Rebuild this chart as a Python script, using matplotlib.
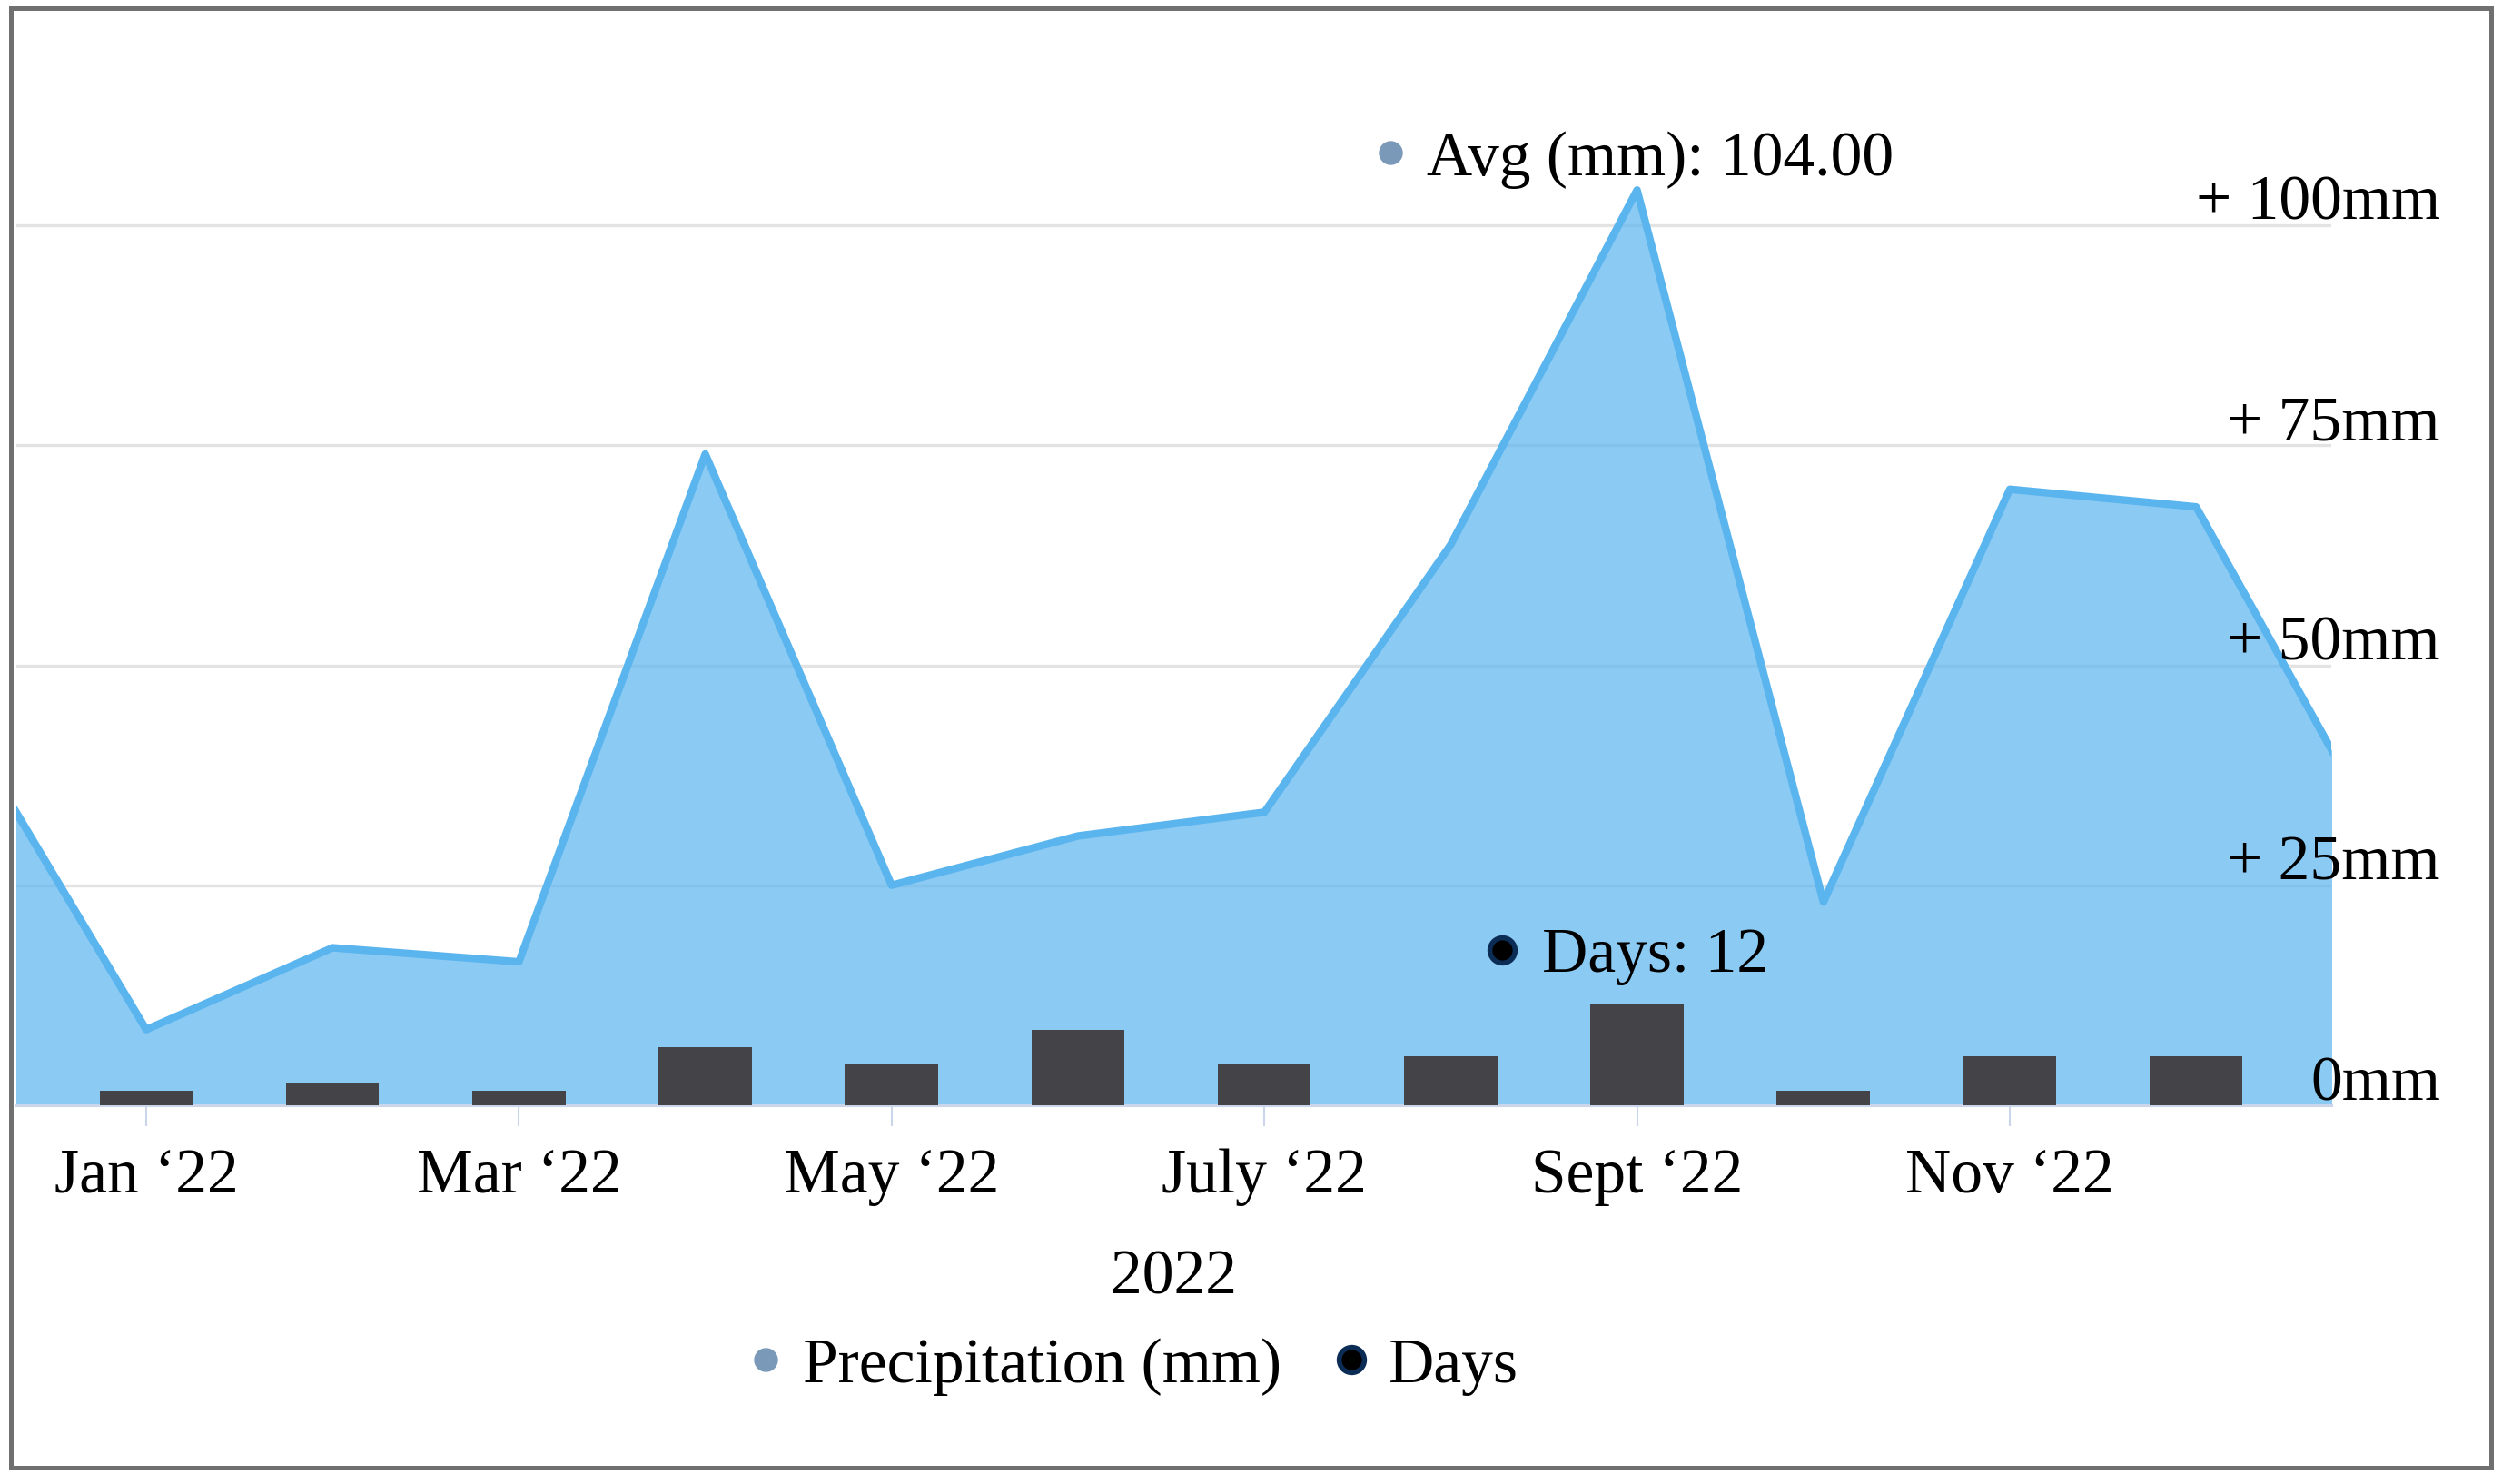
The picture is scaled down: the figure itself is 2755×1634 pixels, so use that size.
import matplotlib.pyplot as plt
import matplotlib.transforms as mtransforms
from matplotlib.lines import Line2D
from matplotlib.patches import Rectangle
import numpy as np

plt.rcParams['font.family'] = ['Liberation Serif', 'DejaVu Sans']

# months from Dec '21 to Jan '23 (ends are clipped by the axis)
months = ['Dec', 'Jan', 'Feb', 'Mar', 'Apr', 'May', 'Jun',
          'Jul', 'Aug', 'Sep', 'Oct', 'Nov', 'Dec', 'Jan']
precip = [44, 8.6, 17.9, 16.3, 74, 25, 30.6, 33.3, 63.7, 104, 23.1, 70, 68, 30]
days = [np.nan, 2, 3, 2, 7, 5, 9, 5, 6, 12, 2, 6, 6, np.nan]
tick_pos = [0, 2, 4, 6, 8, 10]
tick_labels = ['Jan \u201822', 'Mar \u201822', 'May \u201822',
               'July \u201822', 'Sept \u201822', 'Nov \u201822']
yticks = [0, 25, 50, 75, 100]

x = np.arange(len(months)) - 1

W, H = 2755, 1634
fig = plt.figure(figsize=(W / 100, H / 100), dpi=100)
FS = 50

left, right, bottom, top = 18, 2567, 1217, 150
ax = fig.add_axes([left / W, 1 - bottom / H, (right - left) / W, (bottom - top) / H])
ymax = (bottom - top) / 9.69
ax.set_xlim((left - 161) / 205.2, (right - 161) / 205.2)
ax.set_ylim(0, ymax)

line_col = '#5AB4EE'
ax.fill_between(x, precip, 0, color=line_col, alpha=0.7, lw=0, zorder=2)
ax.plot(x, precip, color=line_col, lw=6, zorder=3)

# grid
for v in yticks[1:]:
    ax.axhline(v, color='#e3e3e3', lw=2.4, zorder=1)

for s in ['top', 'left', 'right']:
    ax.spines[s].set_visible(False)
ax.spines['bottom'].set_color('#ccd6eb')
ax.spines['bottom'].set_linewidth(2.2)
ax.spines['bottom'].set_zorder(4)
ax.set_xticks(tick_pos)
ax.set_xticklabels(tick_labels, fontsize=FS)
ax.tick_params(axis='x', length=16.5, width=1.5, color='#ccd6eb', pad=18)
ax.set_yticks([])
ax.set_xlabel('2022', fontsize=FS, labelpad=34)

# y labels on the right, sitting above the grid lines
trans = mtransforms.blended_transform_factory(ax.transAxes, ax.transData)
trans = mtransforms.offset_copy(trans, fig=fig, x=120, y=6, units='dots')
for v in yticks:
    lab = '0mm' if v == 0 else f'+ {v}mm'
    ax.text(1.0, v, lab, transform=trans, ha='right', va='baseline',
            fontsize=FS, zorder=5, clip_on=False)

# days bars on a twin axis
ax2 = ax.twinx()
ax2.set_ylim(0.4, 0.4 + ymax)
ax2.bar(x, days, width=0.5, color='#434348', zorder=3)
ax2.set_yticks([])
for s in ax2.spines.values():
    s.set_visible(False)

# tooltip-like labels
i = int(np.nanargmax(precip))
avg_tr = mtransforms.offset_copy(ax.transData, fig=fig, x=-272, y=41, units='dots')
ax.plot([x[i]], [precip[i]], marker='o', ms=18, mfc='#7A99B8', mec='#7A99B8',
        transform=avg_tr, clip_on=False, zorder=6)
ax.annotate('Avg (mm): %.2f' % precip[i], xy=(x[i], precip[i]), xytext=(-232, 41),
            textcoords='offset pixels', ha='left', va='center_baseline',
            fontsize=FS, annotation_clip=False)
j = int(np.nanargmax(days))
dot_tr = mtransforms.offset_copy(ax2.transData, fig=fig, x=-149, y=59, units='dots')
ax2.plot([x[j]], [days[j]], marker='o', ms=20, mfc='black', mec='#0B2C55', mew=4,
         transform=dot_tr, clip_on=False, zorder=6)
ax2.annotate('Days: %d' % days[j], xy=(x[j], days[j]), xytext=(-105, 59),
             textcoords='offset pixels', ha='left', va='center_baseline',
             fontsize=FS, annotation_clip=False, zorder=6)

# legend
handles = [Line2D([], [], ls='none', marker='o', ms=18, mfc='#7A99B8', mec='#7A99B8'),
           Line2D([], [], ls='none', marker='o', ms=20, mfc='black', mec='#0B2C55', mew=4)]
fig.legend(handles, ['Precipitation (mm)', 'Days'], loc='center',
           bbox_to_anchor=(1240 / W, 1 - 1505 / H), ncol=2, frameon=False,
           fontsize=FS, handletextpad=0.1, columnspacing=0.6, handlelength=1.0)

# outer frame
fig.patches.append(Rectangle((12 / W, 1 - 1616 / H), (2743 - 12) / W, (1616 - 9) / H,
                             transform=fig.transFigure, fill=False,
                             edgecolor='#707070', lw=3.6))

fig.savefig('out.png', dpi=100)
